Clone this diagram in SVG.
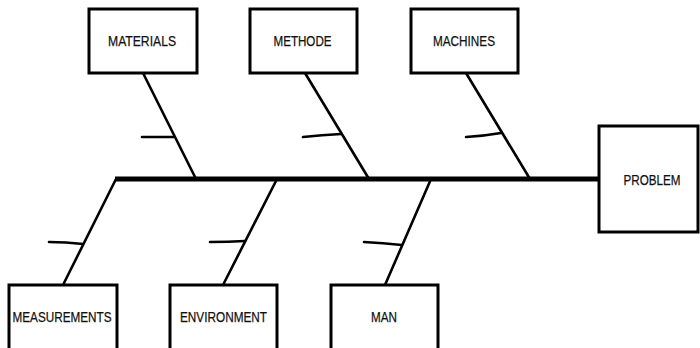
<svg xmlns="http://www.w3.org/2000/svg" width="700" height="348" viewBox="0 0 700 348">
  <style>
    .box { fill: #ffffff; stroke: #000000; stroke-width: 3; }
    .lbl { font-family: "Liberation Sans", Arial, sans-serif; font-size: 15px; fill: #111111; stroke: #111111; stroke-width: 0.25; text-anchor: middle; }
    .bone { stroke: #000000; stroke-width: 2.6; fill: none; stroke-linecap: round; }
    .spine { stroke: #000000; stroke-width: 5; fill: none; }
    .tick { stroke: #000000; stroke-width: 2.6; fill: none; stroke-linecap: round; }
  </style>
  <rect width="700" height="348" fill="#ffffff"/>

  <!-- connectors: spine, branches and minor ticks -->
  <g id="connectors">
    <line class="spine" x1="115" y1="179" x2="600" y2="179"/>
    <!-- upper branches -->
    <line class="bone" x1="143" y1="73" x2="196" y2="179"/>
    <line class="bone" x1="305" y1="73" x2="369" y2="179"/>
    <line class="bone" x1="466" y1="73" x2="530" y2="179"/>
    <!-- lower branches -->
    <line class="bone" x1="116" y1="179" x2="63" y2="285"/>
    <line class="bone" x1="277" y1="179" x2="223" y2="285"/>
    <line class="bone" x1="431" y1="179" x2="385" y2="285"/>
    <!-- ticks -->
    <path class="tick" d="M142 137 L174 137"/>
    <path class="tick" d="M303 137 Q322 135 341 134"/>
    <path class="tick" d="M466 137 Q484 136 501 133"/>
    <path class="tick" d="M49 242 Q66 242 83 244"/>
    <path class="tick" d="M210 242 Q228 242 245 241"/>
    <path class="tick" d="M364 242 Q383 243 402 245"/>
  </g>

  <g id="materials">
    <rect class="box" x="89" y="9" width="108" height="64"/>
    <text class="lbl" x="142" y="45.5" textLength="68" lengthAdjust="spacingAndGlyphs">MATERIALS</text>
  </g>
  <g id="methode">
    <rect class="box" x="250" y="9" width="107" height="64"/>
    <text class="lbl" x="302.5" y="45.5" textLength="58" lengthAdjust="spacingAndGlyphs">METHODE</text>
  </g>
  <g id="machines">
    <rect class="box" x="411" y="9" width="107" height="64"/>
    <text class="lbl" x="464" y="45.5" textLength="62" lengthAdjust="spacingAndGlyphs">MACHINES</text>
  </g>
  <g id="problem">
    <rect class="box" x="599" y="126" width="99" height="106"/>
    <text class="lbl" x="652" y="184.5" textLength="57" lengthAdjust="spacingAndGlyphs">PROBLEM</text>
  </g>
  <g id="measurements">
    <rect class="box" x="9" y="285" width="108" height="70"/>
    <text class="lbl" x="62" y="322" textLength="99" lengthAdjust="spacingAndGlyphs">MEASUREMENTS</text>
  </g>
  <g id="environment">
    <rect class="box" x="170" y="285" width="107" height="70"/>
    <text class="lbl" x="223.5" y="322" textLength="87" lengthAdjust="spacingAndGlyphs">ENVIRONMENT</text>
  </g>
  <g id="man">
    <rect class="box" x="331" y="285" width="107" height="70"/>
    <text class="lbl" x="384" y="322" textLength="26" lengthAdjust="spacingAndGlyphs">MAN</text>
  </g>
</svg>
